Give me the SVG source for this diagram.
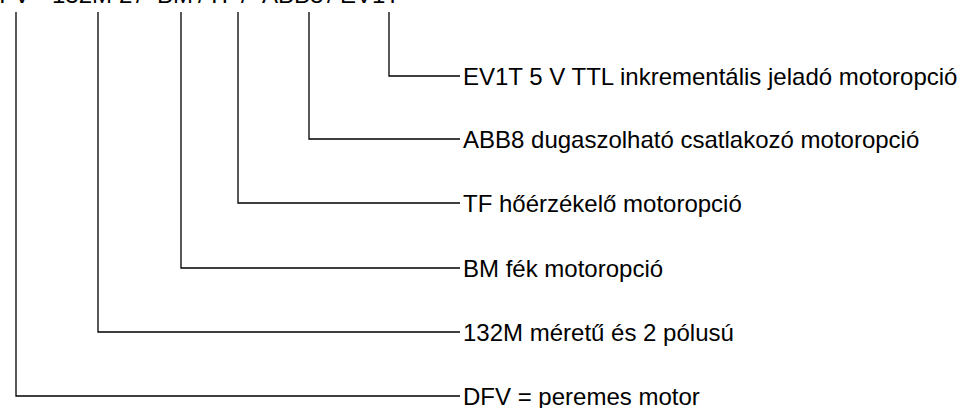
<svg xmlns="http://www.w3.org/2000/svg" width="962" height="408" viewBox="0 0 962 408">
<style>
text{font-family:"Liberation Sans",Arial,sans-serif;font-size:24px;fill:#000}
.c{fill:none;stroke:#000;stroke-width:1.3}
</style>
<rect width="962" height="408" fill="#fff"/>
<text id="code" y="3"><tspan x="-18">DFV</tspan><tspan x="52">132M</tspan><tspan x="119">2</tspan><tspan x="136">/</tspan><tspan x="157">BM</tspan><tspan x="198">/</tspan><tspan x="207">TF</tspan><tspan x="241">/</tspan><tspan x="262">ABB8</tspan><tspan x="327">/</tspan><tspan x="340">EV1T</tspan></text>
<g id="connectors">
<polyline class="c" points="389,12 389,76 460,76"/>
<polyline class="c" points="309,12 309,139 460,139"/>
<polyline class="c" points="238,12 238,203 460,203"/>
<polyline class="c" points="181,12 181,268 460,268"/>
<polyline class="c" points="98,12 98,332 460,332"/>
<polyline class="c" points="16,12 16,396 460,396"/>
</g>
<g id="n-ev1t"><text x="463" y="84.5">EV1T 5 V TTL inkrementális jeladó motoropció</text></g>
<g id="n-abb8"><text x="463" y="147.5">ABB8 dugaszolható csatlakozó motoropció</text></g>
<g id="n-tf"><text x="463" y="211.5">TF hőérzékelő motoropció</text></g>
<g id="n-bm"><text x="463" y="276.5">BM fék motoropció</text></g>
<g id="n-132m"><text x="463" y="340.5">132M méretű és 2 pólusú</text></g>
<g id="n-dfv"><text x="463" y="404.5">DFV = peremes motor</text></g>
</svg>
